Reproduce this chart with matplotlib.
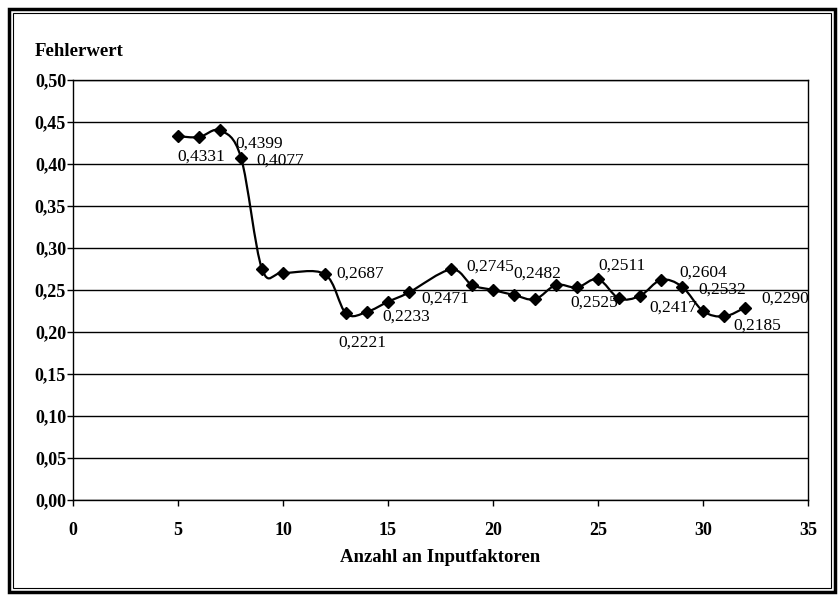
import matplotlib
matplotlib.use("Agg")
import matplotlib.pyplot as plt
import numpy as np
from matplotlib.path import Path
from matplotlib.patches import PathPatch, Rectangle
from matplotlib.ticker import FuncFormatter

# Anzahl an Inputfaktoren vs. Fehlerwert
factors = [5, 6, 7, 8, 9, 10, 12, 13, 14, 15, 16, 18, 19, 20, 21, 22,
           23, 24, 25, 26, 27, 28, 29, 30, 31, 32]
errors = [0.4331, 0.4320, 0.4399, 0.4077, 0.2750, 0.2705, 0.2687, 0.2221,
          0.2240, 0.2360, 0.2471, 0.2745, 0.2560, 0.2500, 0.2440, 0.2390,
          0.2560, 0.2530, 0.2630, 0.2400, 0.2430, 0.2620, 0.2540, 0.2250,
          0.2185, 0.2290]

# data labels: text and the factor they hang on
label_texts = ["0,4331", "0,4399", "0,4077", "0,2687", "0,2221", "0,2233",
               "0,2471", "0,2745", "0,2482", "0,2525", "0,2511", "0,2417",
               "0,2604", "0,2532", "0,2185", "0,2290"]
label_anchor = [6, 7, 8, 12, 13, 15, 16, 18, 22, 26, 25, 28, 29, 30, 31, 32]
# offsets in pixels (right, up) from the marker to the label centre
label_offset = [(2, -20), (39, -13), (39, -3), (35, 1), (16, -29), (18, -15),
                (36, -6), (39, 3), (2, 26), (-25, -4), (24, 13), (12, -28),
                (21, 14), (19, 21), (33, -9), (40, 9)]

SERIF = "Liberation Serif"

fig = plt.figure(figsize=(8.38, 5.97), dpi=100)
ax = fig.add_axes([0.0871, 0.1625, 0.8771, 0.7035])

ax.set_xlim(0, 35)
ax.set_ylim(0, 0.5)
ax.set_xticks(np.arange(0, 36, 5))
ax.set_yticks(np.arange(0, 0.501, 0.05))
ax.yaxis.set_major_formatter(FuncFormatter(lambda v, p: f"{v:.2f}".replace(".", ",")))
ax.grid(axis="y", color="black", linewidth=1.0)
ax.set_axisbelow(True)
for s in ax.spines.values():
    s.set_linewidth(1.0)
ax.tick_params(axis="both", direction="out", length=4, width=1, color="black")
ax.tick_params(axis="y", pad=1)
ax.tick_params(axis="x", pad=12)
for lab in ax.get_xticklabels() + ax.get_yticklabels():
    lab.set_fontfamily(SERIF)
    lab.set_fontweight("bold")
    lab.set_fontsize(13)

# smoothed line (Catmull-Rom as cubic Bezier segments, like Excel's smooth line)
x = np.array(factors, dtype=float)
y = np.array(errors, dtype=float)
verts = [(x[0], y[0])]
codes = [Path.MOVETO]
n = len(x)
for i in range(n - 1):
    x0, y0 = (x[i - 1], y[i - 1]) if i > 0 else (x[i], y[i])
    x3, y3 = (x[i + 2], y[i + 2]) if i + 2 < n else (x[i + 1], y[i + 1])
    c1 = (x[i] + (x[i + 1] - x0) / 6, y[i] + (y[i + 1] - y0) / 6)
    c2 = (x[i + 1] - (x3 - x[i]) / 6, y[i + 1] - (y3 - y[i]) / 6)
    verts += [c1, c2, (x[i + 1], y[i + 1])]
    codes += [Path.CURVE4] * 3
ax.add_patch(PathPatch(Path(verts, codes), facecolor="none", edgecolor="black",
                       linewidth=1.6, zorder=3))
ax.plot(factors, errors, linestyle="none", marker="D", markersize=6,
        color="black", zorder=4)

for txt, anc, off in zip(label_texts, label_anchor, label_offset):
    i = factors.index(anc)
    ax.annotate(txt, xy=(factors[i], errors[i]), xytext=off,
                textcoords="offset pixels", ha="center", va="center",
                fontfamily=SERIF, fontsize=12.5, zorder=5)

fig.text(35 / 838, 1 - 52 / 597, "Fehlerwert", fontfamily=SERIF,
         fontweight="bold", fontsize=13.5, ha="left", va="center")
fig.text(440 / 838, 1 - 558 / 597, "Anzahl an Inputfaktoren", fontfamily=SERIF,
         fontweight="bold", fontsize=13.5, ha="center", va="center")

# double frame around the whole chart
fig.patches.append(Rectangle((9 / 838, 5 / 597), 826 / 838, 583 / 597,
                             transform=fig.transFigure, fill=False,
                             edgecolor="black", linewidth=2.5))
fig.patches.append(Rectangle((13 / 838, 9 / 597), 818 / 838, 575 / 597,
                             transform=fig.transFigure, fill=False,
                             edgecolor="black", linewidth=0.8))

fig.savefig("out.png", dpi=100)
